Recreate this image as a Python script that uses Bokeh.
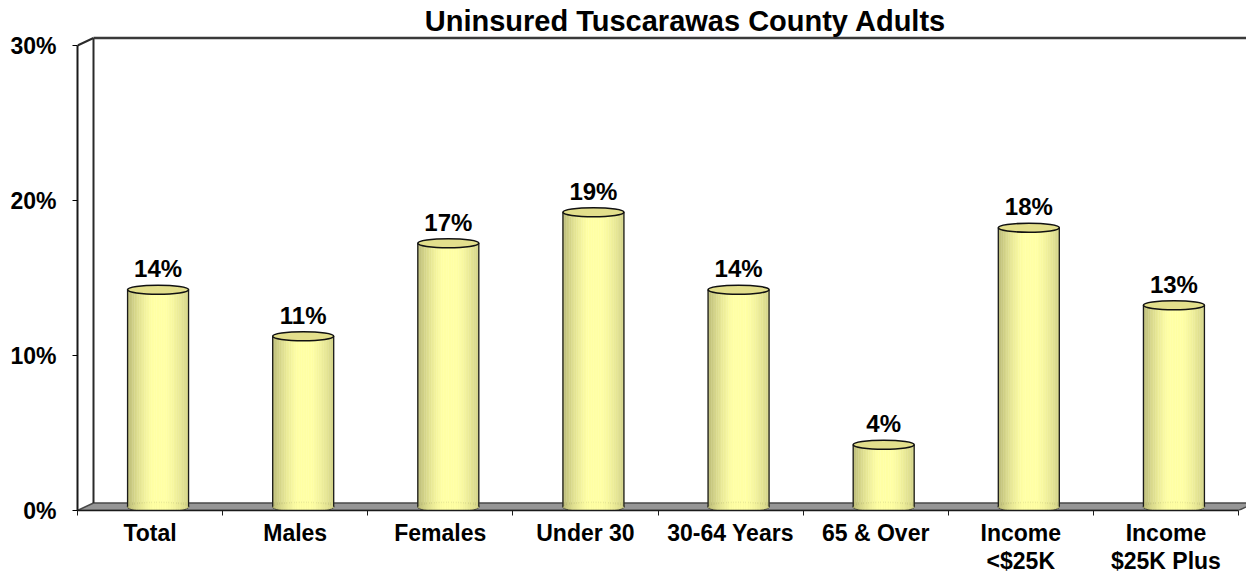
import numpy as np
from bokeh.plotting import figure
from bokeh.models import ColumnDataSource, Range1d, FixedTicker, Label
from bokeh.embed import file_html
from bokeh.resources import INLINE
from bokeh.core.properties import value

# ---------------- data ----------------
categories = ["Total", "Males", "Females", "Under 30", "30-64 Years",
              "65 & Over", "Income\n<$25K", "Income\n$25K Plus"]
values = [14, 11, 17, 19, 14, 4, 18, 13]
value_labels = ["14%", "11%", "17%", "19%", "14%", "4%", "18%", "13%"]
y_ticks = [0, 10, 20, 30]
y_tick_labels = ["0%", "10%", "20%", "30%"]
title_text = "Uninsured Tuscarawas County Adults"

# ---------------- layout ----------------
FONT = "Liberation Sans"
W, H = 1246, 579
LEFT, BOTTOM = 77, 69
n = len(categories)
px_x = 145.125              # pixels per category
px_y = 15.5                 # pixels per percent
frame_w = W - LEFT
frame_h = H - BOTTOM
x_end = frame_w / px_x
y_end = frame_h / px_y
y_max = y_ticks[-1]

ddx = 16 / px_x             # depth offset (x)
ddy = 7.5 / px_y            # depth offset (y)
cw = 61 / px_x              # cylinder width
ce = 4.5 / px_y             # cylinder ellipse semi-height

p = figure(width=W, height=H, x_range=Range1d(0, x_end), y_range=Range1d(0, y_end),
           output_backend="svg", toolbar_location=None,
           min_border_left=LEFT, min_border_right=0, min_border_top=0,
           min_border_bottom=BOTTOM)
p.outline_line_color = None
p.grid.visible = False
p.background_fill_color = "white"
p.border_fill_color = "white"

# ---------------- walls / floor ----------------
p.patch([0, n, n + ddx, ddx], [0, 0, ddy, ddy],
        fill_color="#969696", line_color="#4a4a4a", line_width=1.5)
p.line([ddx, ddx], [ddy, y_max + ddy], line_color="#2a2a2a", line_width=2)
p.line([0, ddx], [y_max, y_max + ddy], line_color="#2a2a2a", line_width=2)
p.line([ddx, x_end + ddx], [y_max + ddy, y_max + ddy], line_color="#3a3a3a", line_width=2.5)

# ---------------- cylinders ----------------
vals = np.array(values, dtype=float)
cx = np.arange(n) + 0.5 + ddx / 2
base = ddy / 2

p.ellipse(x=cx, y=np.full(n, base), width=cw, height=2 * ce,
          fill_color="#d8d488", line_color="#1a1a1a", line_width=1.5)

N = 36
u = -1 + (2 * np.arange(N) + 1) / N
def shade(uu):
    if uu < -0.15:
        f = 1 - 0.27 * ((-(uu + 0.15)) / 0.85) ** 1.5
    elif uu > 0.25:
        f = 1 - 0.17 * (((uu - 0.25)) / 0.75) ** 1.5
    else:
        f = 1.0
    r, g, b = 255 * f, 255 * f, 165 * f
    return "#%02x%02x%02x" % (int(r), int(g), int(b))
strip_colors = [shade(uu) for uu in u]

sx, sb, st, sc = [], [], [], []
for i in range(n):
    for k in range(N):
        sx.append(cx[i] + u[k] * cw / 2)
        sb.append(base - ce * np.sqrt(1 - u[k] ** 2))
        st.append(vals[i] + base)
        sc.append(strip_colors[k])
strips = ColumnDataSource(dict(x=sx, bottom=sb, top=st, color=sc))
p.vbar(x="x", bottom="bottom", top="top", width=cw / N * 1.05, source=strips,
       fill_color="color", line_color="color", line_width=0.4)

p.segment(x0=cx - cw / 2, y0=np.full(n, base), x1=cx - cw / 2, y1=vals + base,
          line_color="#1a1a1a", line_width=1.3)
p.segment(x0=cx + cw / 2, y0=np.full(n, base), x1=cx + cw / 2, y1=vals + base,
          line_color="#1a1a1a", line_width=1.3)
p.ellipse(x=cx, y=vals + base, width=cw, height=2 * ce,
          fill_color="#e3df8c", line_color="#111111", line_width=1.6)

# value labels
p.text(x=cx, y=vals + base, text=value_labels, text_align="center",
       text_baseline="alphabetic", y_offset=-21,
       text_font=value(FONT), text_font_style="bold", text_font_size="24px",
       text_color="black")

# title
p.add_layout(Label(x=(685 - LEFT) / px_x, y=y_end - 20 / px_y, text=title_text,
                   text_align="center", text_baseline="alphabetic",
                   text_font=FONT, text_font_style="bold",
                   text_font_size="29px", text_color="black"))

# ---------------- axes ----------------
ya = p.yaxis[0]
ya.ticker = FixedTicker(ticks=y_ticks, minor_ticks=[])
ya.major_label_overrides = {t: l for t, l in zip(y_ticks, y_tick_labels)}
ya.bounds = (0, y_max)
ya.axis_line_width = 2
ya.axis_line_color = "#1a1a1a"
ya.major_tick_out = 5
ya.major_tick_in = 0
ya.minor_tick_out = 0
ya.minor_tick_in = 0
ya.major_label_standoff = 16
ya.major_label_text_font = FONT
ya.major_label_text_font_style = "bold"
ya.major_label_text_font_size = "23px"
ya.major_label_text_color = "black"

xa = p.xaxis[0]
centers = [i + 0.5 for i in range(n)]
xa.ticker = FixedTicker(ticks=centers, minor_ticks=list(range(n + 1)))
xa.major_label_overrides = {c: cat for c, cat in zip(centers, categories)}
xa.bounds = (0, n)
xa.axis_line_width = 1.5
xa.axis_line_color = "#1a1a1a"
xa.major_tick_out = 0
xa.major_tick_in = 0
xa.minor_tick_out = 5
xa.minor_tick_in = 0
xa.minor_tick_line_color = "#1a1a1a"
xa.major_label_standoff = 4
xa.major_label_text_font = FONT
xa.major_label_text_font_style = "bold"
xa.major_label_text_font_size = "23px"
xa.major_label_text_line_height = 1.1
xa.major_label_text_color = "black"

open("out.html", "w").write(file_html(p, INLINE))
